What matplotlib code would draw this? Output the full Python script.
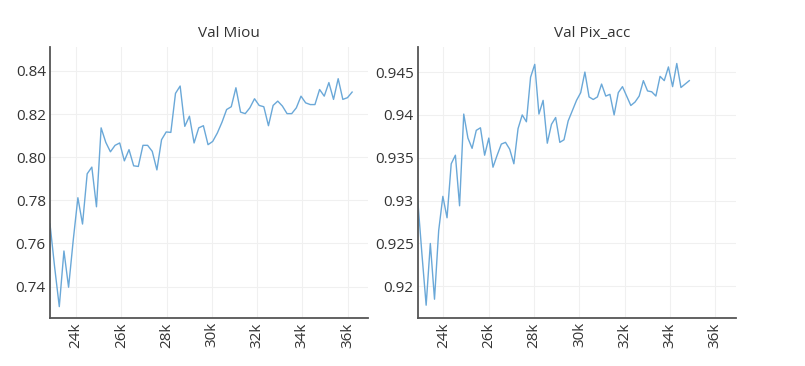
import numpy as np
import matplotlib
matplotlib.use('Agg')
import matplotlib.pyplot as plt

plt.rcParams['font.family'] = ['Open Sans', 'DejaVu Sans']

# validation mIoU
miou = [0.769, 0.749, 0.7307, 0.7565, 0.7397, 0.7615, 0.7812, 0.769, 0.7923, 0.7954,
        0.777, 0.8136, 0.8069, 0.8025, 0.8055, 0.8066, 0.7983, 0.8035, 0.796, 0.7957,
        0.8055, 0.8055, 0.8027, 0.7941, 0.8081, 0.8117, 0.8115, 0.8296, 0.833, 0.8143,
        0.819, 0.8066, 0.8136, 0.8146, 0.8058, 0.8073, 0.8112, 0.8162, 0.8221, 0.8234,
        0.8322, 0.8209, 0.8202, 0.8229, 0.8271, 0.824, 0.8234, 0.8146, 0.824, 0.826,
        0.8237, 0.8202, 0.8202, 0.8229, 0.8283, 0.8252, 0.8244, 0.8244, 0.8314, 0.8283,
        0.8346, 0.8268, 0.8364, 0.8268, 0.8276, 0.8302]

# validation pixel accuracy
pix_acc = [0.930, 0.9237, 0.9178, 0.925, 0.9185, 0.9265, 0.9305, 0.928, 0.9343, 0.9353,
           0.9294, 0.9401, 0.9373, 0.9361, 0.9382, 0.9385, 0.9353, 0.9373, 0.9339, 0.9353,
           0.9366, 0.9368, 0.936, 0.9343, 0.9384, 0.940, 0.9392, 0.9444, 0.9459, 0.9401,
           0.9417, 0.9367, 0.9389, 0.9397, 0.9368, 0.9371, 0.9393, 0.9405, 0.9417, 0.9426,
           0.945, 0.9421, 0.9418, 0.9421, 0.9436, 0.9422, 0.9424, 0.940, 0.9426, 0.9433,
           0.9422, 0.9411, 0.9415, 0.9422, 0.944, 0.9428, 0.9427, 0.9422, 0.9445, 0.944,
           0.9456, 0.9433, 0.946, 0.9432, 0.9436, 0.944]

# iteration range of each run
miou_start, miou_end = 22850, 36200
pix_start, pix_end = 22870, 34850

xticks = [24000, 26000, 28000, 30000, 32000, 34000, 36000]
xticklabels = ['24k', '26k', '28k', '30k', '32k', '34k', '36k']
miou_ticks = [0.74, 0.76, 0.78, 0.80, 0.82, 0.84]
miou_labels = ['0.74', '0.76', '0.78', '0.80', '0.82', '0.84']
pix_ticks = [0.92, 0.925, 0.93, 0.935, 0.94, 0.945]
pix_labels = ['0.92', '0.925', '0.93', '0.935', '0.94', '0.945']

line_color = '#6aa8d8'
text_color = '#333333'

fig = plt.figure(figsize=(8.05, 3.66), dpi=100)
ax1 = fig.add_axes([0.0621, 0.131, 0.395, 0.740])
ax2 = fig.add_axes([0.519, 0.131, 0.395, 0.740])


def style(ax, title, tx, yt, yl, ylim, xlim):
    ax.set_xlim(*xlim)
    ax.set_ylim(*ylim)
    ax.set_xticks(xticks)
    ax.set_xticklabels(xticklabels, rotation=90)
    ax.set_yticks(yt)
    ax.set_yticklabels(yl)
    ax.tick_params(length=0, labelsize=11, colors=text_color, pad=3)
    for s in ['top', 'right']:
        ax.spines[s].set_visible(False)
    for s in ['left', 'bottom']:
        ax.spines[s].set_color('#555555')
        ax.spines[s].set_linewidth(1.3)
    ax.grid(True, color='#f0f0f0', linewidth=0.8)
    ax.set_axisbelow(True)
    ax.set_title(title, x=tx, fontsize=11, color=text_color, pad=7)


x1 = np.linspace(miou_start, miou_end, len(miou))
ax1.plot(x1, miou, color=line_color, linewidth=1)
style(ax1, 'Val Miou', 0.563, miou_ticks, miou_labels, (0.7254, 0.851), (22850, 36900))

x2 = np.linspace(pix_start, pix_end, len(pix_acc))
ax2.plot(x2, pix_acc, color=line_color, linewidth=1)
style(ax2, 'Val Pix_acc', 0.547, pix_ticks, pix_labels, (0.9163, 0.9479), (22870, 36900))

fig.savefig('out.png', dpi=100)
